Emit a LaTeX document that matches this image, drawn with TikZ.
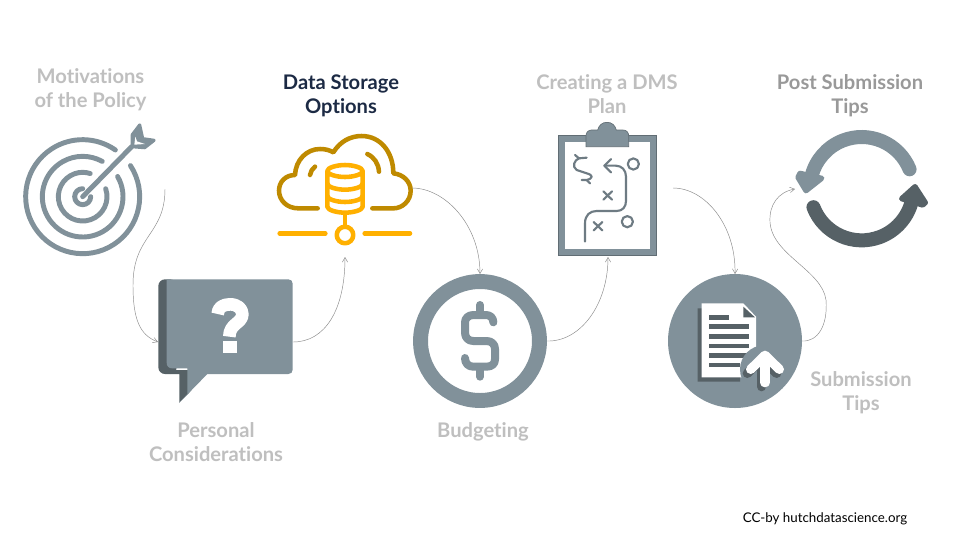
\documentclass[tikz,border=0pt]{standalone}
\usepackage{fontspec}
\setmainfont{Lato}[Ligatures=NoCommon]
\usetikzlibrary{arrows.meta}
\definecolor{icon}{HTML}{81919A}
\definecolor{icondark}{HTML}{566166}
\definecolor{cloudc}{HTML}{BF8A00}
\definecolor{dbc}{HTML}{FFB000}
\definecolor{faded}{HTML}{BFBFBF}
\definecolor{midgray}{HTML}{999999}
\definecolor{navy}{HTML}{1C2A44}
\tikzset{
  anchorbox/.style={inner sep=0pt,outer sep=0pt,draw=none},
  caption/.style={align=center,font=\fontsize{15.1}{18}\selectfont\bfseries,text=faded,inner sep=0pt},
  link/.style={draw=black!45,line width=0.35pt,-{Straight Barb[length=3.5pt,width=4pt]}},
  tstroke/.style={draw=icon,line width=3.7pt,line cap=round,line join=round},
  zoomed/.style={x=0.25pt,y=-0.25pt},
  dbline/.style={draw=dbc,line width=3.4pt,line cap=round,line join=round},
  cloudline/.style={draw=cloudc,line width=3.4pt,line cap=round,line join=round},
  planline/.style={draw=icon!85!black,line width=1.6pt,line cap=round,line join=round},
}
\newcommand\ringarc[3]{\draw[tstroke] ({218+#1*cos(#2)},{260-#1*sin(#2)}) arc[start angle=#2,end angle=#3,radius=#1*0.25pt];}
\begin{document}
\begin{tikzpicture}[x=0.75pt,y=-0.75pt]
\useasboundingbox (0,0) rectangle (960,540);
\fill[white] (0,0) rectangle (960,540);
% anchor boxes for the icons
\node[anchorbox,minimum width=108pt,minimum height=81pt] (target) at (93,189) {};
\node[anchorbox,minimum width=101.25pt,minimum height=93pt] (bubble) at (225.5,342) {};
\node[anchorbox,minimum width=100.5pt,minimum height=103.5pt] (cloud) at (345,188) {};
\node[anchorbox,shape=circle,minimum size=100.5pt] (budget) at (480,341) {};
\node[anchorbox,minimum width=97.5pt,minimum height=103.5pt] (plan) at (608,188) {};
\node[anchorbox,shape=circle,minimum size=100.5pt] (docs) at (735,341) {};
\node[anchorbox,minimum width=101.25pt,minimum height=81pt] (cycle) at (862.5,189) {};
% target
\begin{scope}[shift={(10,110)},zoomed]
\ringarc{171}{33}{-305}
\ringarc{121}{30}{-299}
\ringarc{73}{19}{-288}
\ringarc{24}{0}{-270}
\draw[tstroke] (218,260) -- (365,110);
\draw[draw=icon,fill=icon,line width=2.4pt,line join=round] (389,45) -- (398,86) -- (432,91) -- (404,113) -- (367,110) -- (367,74) -- cycle;
\fill[white] (376,80) -- (381,94) -- (405,102) -- (373,104) -- cycle;
\end{scope}
% bubble
\begin{scope}[shift={(150,270)},zoomed]
\fill[icondark,rounded corners=5pt] (25,28) -- (80,28) -- (80,312) -- (25,312) -- cycle;
\fill[icondark] (60,312) -- (88,312) -- (88,398) -- (125,360) -- (125,300) -- (60,300) -- cycle;
\fill[icon] (112,295) -- (66,295) .. controls (56,295) and (50,288) .. (50,278) -- (50,28) -- (415,28) .. controls (423,28) and (428,33) .. (428,41) -- (428,299) .. controls (428,307) and (423,312) .. (415,312) -- (172,312) -- (88,398) -- (112,372) -- cycle;
\draw[white,line width=9.5pt,line cap=butt,line join=round] (203,132) .. controls (203,112) and (220,103) .. (240,103) .. controls (262,103) and (277,115) .. (277,133) .. controls (277,160) and (238,160) .. (238,200);
\fill[white] (218,213) rectangle (260,248);
\end{scope}
% cloud
\begin{scope}[shift={(265,125)},zoomed]
\draw[cloudline] (158,250) -- (100,250) .. controls (65,250) and (42,225) .. (42,197) .. controls (42,170) and (62,150) .. (90,150) .. controls (92,105) and (125,72) .. (165,72) .. controls (180,72) and (193,75) .. (205,82) .. controls (225,50) and (255,33) .. (290,33) .. controls (345,33) and (385,80) .. (385,145) .. controls (415,148) and (437,170) .. (437,197) .. controls (437,228) and (412,250) .. (385,250) -- (322,250);
\draw[cloudline] (135,150) .. controls (137,140) and (142,130) .. (150,125);
\draw[cloudline] (307,87) .. controls (328,97) and (340,115) .. (342,140);
\draw[dbline,fill=white] (187,138) -- (187,245) .. controls (187,255) and (215,263) .. (240,263) .. controls (265,263) and (293,255) .. (293,245) -- (293,138) .. controls (293,128) and (265,120) .. (240,120) .. controls (215,120) and (187,128) .. (187,138) .. controls (187,148) and (215,156) .. (240,156) .. controls (265,156) and (293,148) .. (293,138);
\draw[dbline] (187,176) .. controls (187,186) and (215,194) .. (240,194) .. controls (265,194) and (293,186) .. (293,176);
\draw[dbline] (187,213) .. controls (187,223) and (215,231) .. (240,231) .. controls (265,231) and (293,223) .. (293,213);
\draw[dbline] (240,265) -- (240,305);
\draw[dbline] (240,330) circle[radius=6.2pt];
\draw[dbline] (44,325) -- (181,325);
\draw[dbline] (299,325) -- (435,325);
\end{scope}
% budget
\draw[icon,line width=11.2pt] (budget.center) circle[radius=44.6pt];
\begin{scope}[shift={(405,265)},zoomed]
\draw[icon,line width=6pt,line cap=round,line join=round] (265,172) .. controls (265,158) and (255,150) .. (243,150) -- (205,150) .. controls (190,150) and (180,160) .. (180,172) -- (180,203) .. controls (180,218) and (190,228) .. (205,228) -- (245,228) .. controls (260,228) and (270,238) .. (270,252) -- (270,283) .. controls (270,297) and (260,305) .. (245,305) -- (205,305) .. controls (190,305) and (180,295) .. (180,279);
\draw[icon,line width=6pt,line cap=round] (225,120) -- (225,148);
\draw[icon,line width=6pt,line cap=round] (225,307) -- (225,335);
\end{scope}
% clipboard
\begin{scope}[shift={(545,115)},zoomed]
\draw[icon,line width=4.6pt,fill=white] (50,72) rectangle (324,412);
\draw[icon!75!black,line width=0.5pt] (40,62) rectangle (334,422);
\draw[icon!75!black,line width=0.5pt,fill=icon] (123,95) -- (123,62) .. controls (123,52) and (130,45) .. (140,45) -- (158,45) .. controls (162,30) and (172,22) .. (186,22) .. controls (200,22) and (210,30) .. (214,45) -- (234,45) .. controls (244,45) and (251,52) .. (251,62) -- (251,95) -- cycle;
\draw[planline] (125,128) -- (102,130) .. controls (88,135) and (80,155) .. (95,165) -- (125,175) .. controls (145,180) and (145,190) .. (125,195) -- (110,195);
\draw[planline] (90,120) -- (102,130);
\draw[planline] (125,195) -- (135,205);
\draw[planline] (120,380) -- (120,325) .. controls (120,300) and (135,288) .. (155,288) -- (215,288) .. controls (233,288) and (243,275) .. (243,258) -- (243,185) .. controls (243,165) and (230,152) .. (212,152) -- (178,152);
\draw[planline] (198,132) -- (178,152) -- (198,172);
\draw[planline] (175,229) -- (201,254) (201,229) -- (175,254);
\draw[planline] (146,321) -- (172,346) (172,321) -- (146,346);
\draw[planline] (265,147) circle[radius=4.2pt];
\draw[planline] (247,320) circle[radius=4.2pt];
\end{scope}
% document
\fill[icon] (docs.center) circle[radius=50.25pt];
\begin{scope}[shift={(660,270)},zoomed]
\fill[icondark] (113,115) -- (125,115) -- (240,320) -- (240,335) -- (113,335) -- cycle;
\fill[white] (125,100) -- (250,100) -- (288,140) -- (288,322) -- (125,322) -- cycle;
\fill[icondark] (250,110) -- (285,142) -- (250,142) -- cycle;
\fill[icondark] (148,136) rectangle (208,150);
\foreach \yy in {163,192,221,250} {\fill[icondark] (148,\yy) rectangle (268,\yy+14);}
\fill[icondark] (148,278) rectangle (240,292);
\fill[icon] (312,298) circle[radius=18pt];
\draw[icondark,line width=7pt,line cap=round,line join=round] (305,350) -- (305,272);
\draw[icondark,line width=7pt,line cap=round,line join=round] (262,310) -- (305,268) -- (350,310);
\draw[white,line width=7pt,line cap=round,line join=round] (315,338) -- (315,262);
\draw[white,line width=7pt,line cap=round,line join=round] (272,298) -- (315,256) -- (358,298);
\end{scope}
% cycle arrows
\begin{scope}[shift={(770,120)},zoomed]
\draw[icon,line width=10.5pt,line cap=round] ({275+155*cos(22)},{206-155*sin(22)}) arc[start angle=22,end angle=165,radius=38.75pt];
\draw[icon,fill=icon,line width=4pt,line join=round] (90,160) -- (155,175) -- (108,212) -- (84,172) -- cycle;
\draw[icondark,line width=10.5pt,line cap=round] ({275+155*cos(201)},{206-155*sin(201)}) arc[start angle=201,end angle=345,radius=38.75pt];
\draw[icondark,fill=icondark,line width=4pt,line join=round] (435,200) -- (466,248) -- (458,255) -- (395,236) -- cycle;
\end{scope}
% connectors
\draw[link] (target.east) .. controls (165,235) and (133,235) .. (133,285) .. controls (133,320) and (140,335) .. (bubble.west);
\draw[link] (bubble.east) .. controls (325,342) and (345,310) .. (cloud.south);
\draw[link] (cloud.east) .. controls (445,188) and (480,225) .. (budget.north);
\draw[link] (budget.east) .. controls (580,342) and (608,305) .. (plan.south);
\draw[link] (plan.east) .. controls (705,188) and (736,225) .. (docs.north);
\draw[link] (docs.east) .. controls (818,342) and (828,325) .. (826,300) .. controls (822,270) and (772,255) .. (770,222) .. controls (769,205) and (778,192) .. (cycle.west);
% captions
\node[caption] (capa) at (90.5,90) {Motivations\\of the Policy};
\node[caption,text=navy] (capb) at (341,96) {Data Storage\\Options};
\node[caption] (capc) at (607,94) {Creating a DMS\\Plan};
\node[caption,text=midgray] (capd) at (850,96) {Post Submission\\Tips};
\node[caption] (cape) at (216,442) {Personal\\Considerations};
\node[caption] (capf) at (483,432) {Budgeting};
\node[caption] (capg) at (861,393) {Submission\\Tips};
\node[inner sep=0pt,font=\fontsize{10}{12}\selectfont,text=black] (credit) at (825,518.5) {CC-by hutchdatascience.org};
\end{tikzpicture}
\end{document}
